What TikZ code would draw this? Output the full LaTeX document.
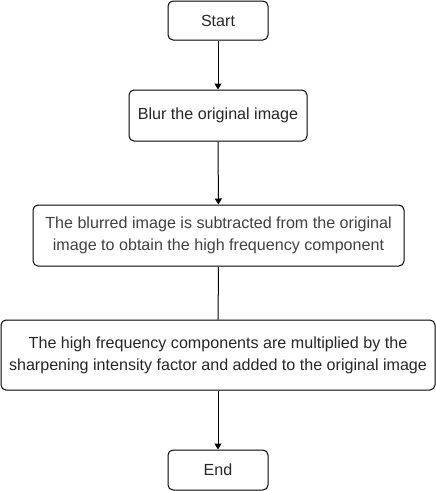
\documentclass[tikz,border=0pt]{standalone}
\usepackage{fontspec}
\setmainfont{Liberation Sans}
\usetikzlibrary{arrows.meta}
\begin{document}
\begin{tikzpicture}[x=1pt,y=-1pt,
  box/.style={draw, line width=1pt, rounded corners=5pt, inner sep=0pt, align=center,
    font=\fontsize{16.1}{22}\selectfont, text=black!85},
  conn/.style={draw, line width=1pt},
  arr/.style={conn, -{Triangle[length=6pt,width=7pt]}}]
\useasboundingbox (0,0) rectangle (436,491);
\node[box, minimum width=100pt, minimum height=39pt] (s) at (218,20.5) {Start};
\node[box, minimum width=178pt, minimum height=51pt] (b) at (218,115.5) {Blur the original image};
\node[box, minimum width=371pt, minimum height=61pt, text=black!75] (c) at (218.5,235.5) {The blurred image is subtracted from the original\\image to obtain the high frequency component};
\node[box, minimum width=434pt, minimum height=70pt] (d) at (218,355) {The high frequency components are multiplied by the\\sharpening intensity factor and added to the original image};
\node[box, minimum width=100pt, minimum height=40pt] (e) at (218,470) {End};
\draw[arr] (s) -- (b);
\draw[arr] (b) -- (c);
\draw[conn] (c) -- (d);
\draw[arr] (d) -- (e);
\end{tikzpicture}
\end{document}
